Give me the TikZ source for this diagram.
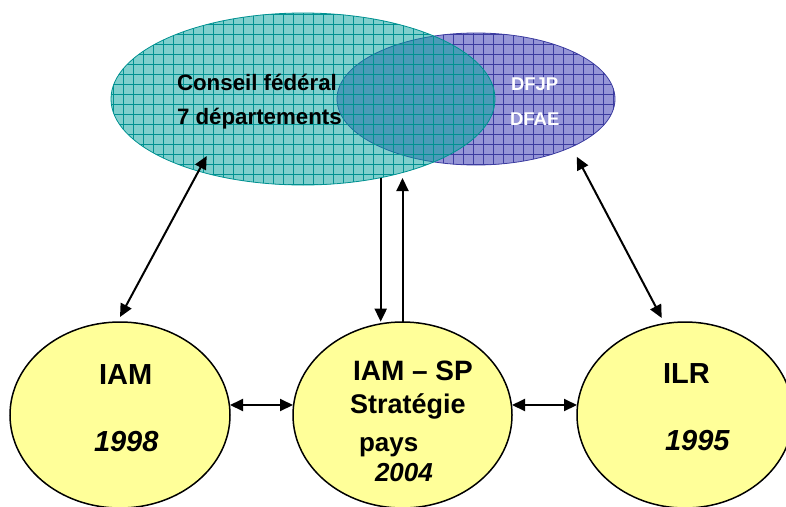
\documentclass[tikz,border=0pt]{standalone}
\usepackage{fontspec}
\setmainfont{Liberation Sans}
\usetikzlibrary{shapes.geometric,arrows.meta,calc}
\definecolor{tealfill}{RGB}{0,160,155}
\definecolor{tealline}{RGB}{0,145,145}
\definecolor{purpfill}{RGB}{150,150,215}
\definecolor{purpline}{RGB}{60,60,160}
\definecolor{yel}{RGB}{255,255,153}
\begin{document}
\begin{tikzpicture}[x=1pt,y=-1pt,
  bigell/.style={ellipse, inner sep=0pt, outer sep=0pt},
  yell/.style={bigell, draw=black, line width=1.5pt, fill=yel},
  conn/.style={line width=2pt, {Triangle[length=13pt,width=12pt]}-{Triangle[length=13pt,width=12pt]}},
  one/.style={line width=2pt, -{Triangle[length=13pt,width=12pt]}},
  lbl/.style={inner sep=0pt, outer sep=0pt, anchor=base west},
  gridl/.style={line width=0.6pt},
]
\useasboundingbox (0,0) rectangle (786,506);

% purple ellipse (departments)
\node[bigell, minimum width=278pt, minimum height=132pt, fill=purpfill] (dep) at (476,99) {};
\begin{scope}
  \clip (476,99) ellipse [x radius=139, y radius=66];
  \foreach \x in {3,13,...,790} \draw[gridl, purpline] (\x,0) -- (\x,200);
  \foreach \y in {4,14,...,200} \draw[gridl, purpline] (300,\y) -- (700,\y);
\end{scope}
\draw[purpline, line width=0.8pt] (476,99) ellipse [x radius=139, y radius=66];

% teal ellipse (federal council)
\node[bigell, minimum width=384pt, minimum height=172pt, fill=tealfill, fill opacity=0.5] (cf) at (303,99) {};
\begin{scope}
  \clip (303,99) ellipse [x radius=192, y radius=86];
  \foreach \x in {3,13,...,790} \draw[gridl, tealline] (\x,0) -- (\x,200);
  \foreach \y in {4,14,...,200} \draw[gridl, tealline] (100,\y) -- (500,\y);
\end{scope}
\draw[tealline, line width=0.8pt] (303,99) ellipse [x radius=192, y radius=86];

% yellow ellipses
\node[yell, minimum width=220pt, minimum height=186pt] (iam) at (120,415) {};
\node[yell, minimum width=219pt, minimum height=186pt] (sp) at (402.5,415) {};
\node[yell, minimum width=216pt, minimum height=186pt] (ilr) at (685,415) {};

% texts
\node[lbl, font=\fontsize{22.3}{26}\selectfont\bfseries] (t1) at (177,90.7) {Conseil fédéral};
\node[lbl, font=\fontsize{22.3}{26}\selectfont\bfseries] (t2) at (177,124) {7 départements};
\node[lbl, font=\fontsize{18.5}{22}\selectfont\bfseries, text=white] (t3) at (511,90.7) {DFJP};
\node[lbl, font=\fontsize{18.5}{22}\selectfont\bfseries, text=white] (t4) at (510,125) {DFAE};

\node[lbl, font=\fontsize{29}{33}\selectfont\bfseries] (t5) at (99,384) {IAM};
\node[lbl, font=\fontsize{29}{33}\selectfont\bfseries\itshape] (t6) at (94,451.7) {1998};

\node[lbl, font=\fontsize{28}{32}\selectfont\bfseries] (t7) at (353,380) {IAM – SP};
\node[lbl, font=\fontsize{27}{31}\selectfont\bfseries] (t8) at (350,413) {Stratégie};
\node[lbl, font=\fontsize{26}{30}\selectfont\bfseries] (t9) at (359,451) {pays};
\node[lbl, font=\fontsize{26}{30}\selectfont\bfseries\itshape] (t10) at (375,481.7) {2004};

\node[lbl, font=\fontsize{29}{33}\selectfont\bfseries] (t11) at (663,383.3) {ILR};
\node[lbl, font=\fontsize{29}{33}\selectfont\bfseries\itshape] (t12) at (665,450.7) {1995};

% connectors
\coordinate (cfL) at ($(cf.center)+(-96.3,57)$);
\coordinate (depR) at ($(dep.center)+(100.7,57.7)$);
\coordinate (ilrT) at ($(ilr.center)+(-23.3,-97)$);
\draw[conn] ([yshift=5pt]iam.north) -- (cfL);
\draw[conn] (ilrT) -- (depR);
\draw[one] ($(cf.center)+(77.7,78.6)$) -- ($(sp.center)+(-21.8,-93.3)$);
\draw[one] (sp.north) -- ++(0,-144);
\draw[conn] ([yshift=10pt]iam.east) -- ([yshift=10pt]sp.west);
\draw[conn] ([yshift=10pt]sp.east) -- ([yshift=10pt]ilr.west);
\end{tikzpicture}
\end{document}
